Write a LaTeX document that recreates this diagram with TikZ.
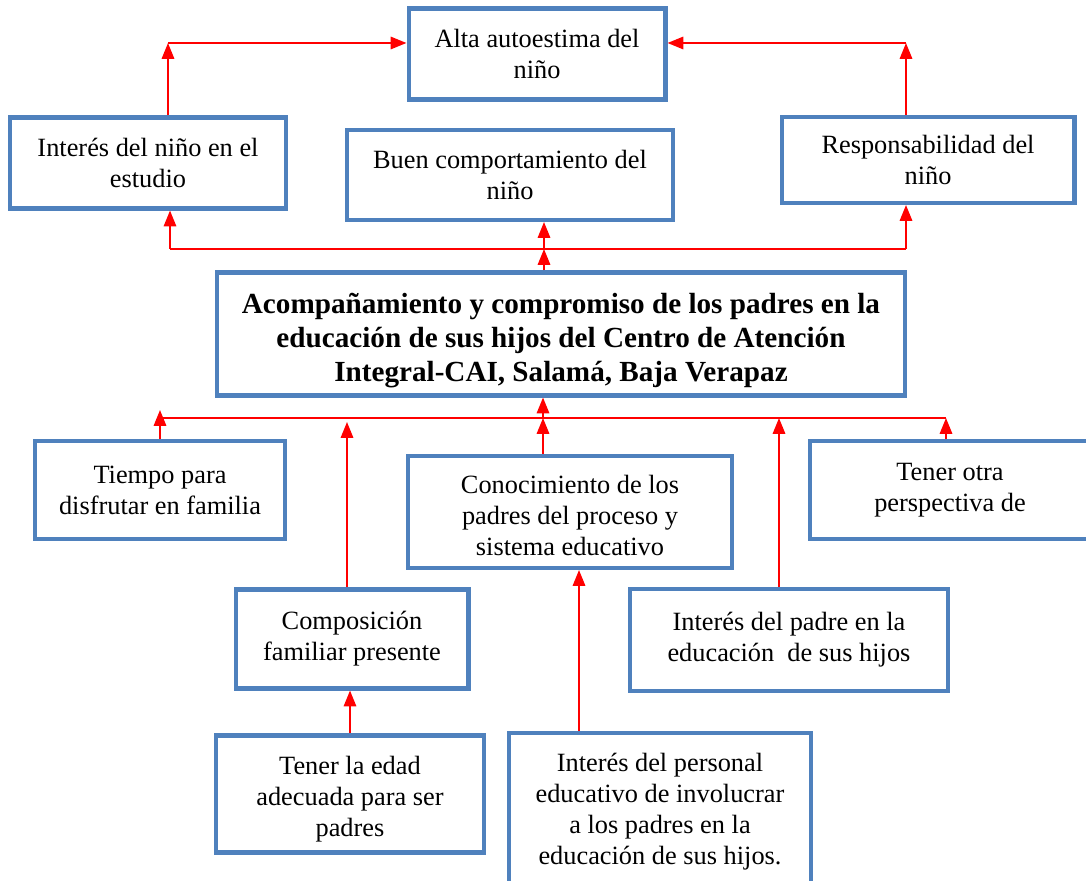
\documentclass[tikz,border=0pt]{standalone}
\usepackage{fontspec}
\setmainfont{Liberation Serif}
\usetikzlibrary{shapes,arrows.meta,positioning,calc}

\definecolor{cajaazul}{RGB}{79,129,189}
\tikzset{
	caja/.style={draw=cajaazul, line width=2.3pt, fill=white, inner sep=0pt, align=center,
		font=\fontsize{15pt}{17.6pt}\selectfont},
	flecha/.style={draw=red, line width=1.2pt, -{Triangle[length=9pt,width=7pt]}},
	linea/.style={draw=red, line width=1.2pt}
}

\begin{document}
\begin{tikzpicture}[x=0.02cm, y=-0.02cm]
					\useasboundingbox (0,0) rectangle (1086,881);
					\clip (0,0) rectangle (1086,881);

					% efectos
					\node[caja, minimum width=5.14cm, minimum height=1.82cm] (alta) at (537,54) {Alta autoestima del\\niño};
					\node[caja, minimum width=5.52cm, minimum height=1.82cm] (nino) at (148,163) {Interés del niño en el\\estudio};
					\node[caja, minimum width=6.54cm, minimum height=1.80cm] (buen) at (510,175) {Buen comportamiento del\\niño};
					\node[caja, minimum width=5.86cm, minimum height=1.72cm] (resp) at (928,160) {Responsabilidad del\\niño};

					% problema central
					\node[caja, minimum width=13.76cm, minimum height=2.46cm,
						font=\fontsize{16.6pt}{19.3pt}\selectfont\bfseries] (main) at (561,334)
						{\rule{0pt}{19.5pt}Acompañamiento y compromiso de los padres en la\\educación de sus hijos del Centro de Atención\\Integral-CAI, Salamá, Baja Verapaz};

					% causas
					\node[caja, minimum width=5.02cm, minimum height=1.96cm] (tiempo) at (160,490) {Tiempo para\\disfrutar en familia};
					\node[caja, minimum width=6.50cm, minimum height=2.24cm] (conoc) at (570,512) {\rule{0pt}{14pt}Conocimiento de los\\padres del proceso y\\sistema educativo};
					\node[caja, minimum width=5.60cm, minimum height=1.96cm] (otra) at (950,490) {Tener otra\\perspectiva de};
					\node[caja, minimum width=4.66cm, minimum height=1.98cm] (compo) at (352,639) {Composición\\familiar presente};
					\node[caja, minimum width=6.38cm, minimum height=2.04cm] (padre) at (789,640) {Interés del padre en la\\educación~ de sus hijos};
					\node[caja, minimum width=5.36cm, minimum height=2.34cm] (edad) at (350,794) {\rule{0pt}{16pt}Tener la edad\\adecuada para ser\\padres};
					\node[caja, minimum width=6.04cm, minimum height=3.16cm] (person) at (660,812) {Interés del personal\\educativo de involucrar\\a los padres en la\\educación de sus hijos.};

					% flechas arriba
					\coordinate (tl) at (168,43);
					\coordinate (tr) at (906,43);
					\draw[flecha] (nino.north -| tl) -- (tl);
					\draw[flecha] (tl) -- (tl -| alta.west);
					\draw[flecha] (resp.north -| tr) -- (tr);
					\draw[flecha] (tr) -- (tr -| alta.east);

					\coordinate (bl) at (170,249);
					\coordinate (br) at (906,249);
					\coordinate (bm) at (544,249);
					\draw[linea] (bl) -- (br);
					\draw[flecha] (bl) -- (bl |- nino.south);
					\draw[flecha] (br) -- (br |- resp.south);
					\draw[flecha] (bm) -- (bm |- buen.south);
					\draw[flecha] (main.north -| bm) -- (bm);

					% flechas abajo
					\coordinate (dl) at (160,418);
					\coordinate (dr) at (946,418);
					\coordinate (dm) at (543,418);
					\coordinate (tip1) at (160,410);
					\coordinate (tip2) at (347,422);
					\coordinate (tip3) at (779,418);
					\coordinate (pc) at (579,600);
					\draw[linea] (dl) -- (dr);
					\draw[flecha] (dm) -- (dm |- main.south);
					\draw[flecha] (tiempo.north -| tip1) -- (tip1);
					\draw[flecha] (conoc.north -| dm) -- (dm);
					\draw[flecha] (compo.north -| tip2) -- (tip2);
					\draw[flecha] (padre.north -| tip3) -- (tip3);
					\draw[flecha] (otra.north -| dr) -- (dr);
					\draw[flecha] (edad.north) -- (edad.north |- compo.south);
					\draw[flecha] (person.north -| pc) -- (pc |- conoc.south);
				\end{tikzpicture}
\end{document}
